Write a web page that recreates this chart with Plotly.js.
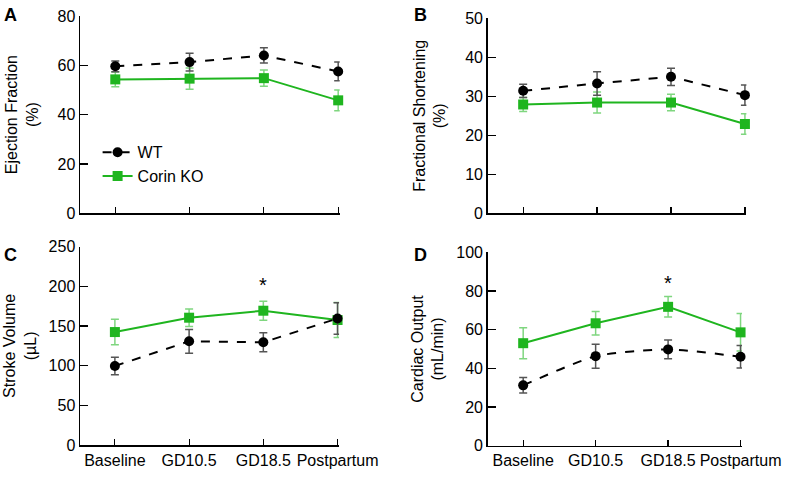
<!DOCTYPE html>
<html>
<head>
<meta charset="utf-8">
<script src="https://cdn.plot.ly/plotly-3.0.1.min.js"></script>
<style>html,body{margin:0;padding:0;background:#fff;}#chart{width:800px;height:478px;}</style>
</head>
<body>
<div id="chart"></div>
<script>
const categories = ["Baseline", "GD10.5", "GD18.5", "Postpartum"];

const efWT = [59.6, 61.3, 64.0, 57.5];
const efWTerr = [2.2, 3.6, 3.1, 3.8];
const efKO = [54.3, 54.6, 54.8, 45.8];
const efKOerr = [3.0, 4.3, 3.3, 4.2];

const fsWT = [31.4, 33.3, 35.0, 30.3];
const fsWTerr = [1.7, 3.0, 2.2, 2.6];
const fsKO = [27.9, 28.4, 28.4, 22.9];
const fsKOerr = [1.8, 2.7, 2.1, 2.6];

const svWT = [99.6, 130.7, 129.5, 159.5];
const svWTerr = [11, 15, 12, 20];
const svKO = [142.4, 160.5, 169.3, 157.6];
const svKOerr = [16, 11, 12, 22];

const coWT = [31.2, 46.3, 49.8, 46.0];
const coWTerr = [4.0, 6.2, 4.8, 5.8];
const coKO = [53.0, 63.3, 71.8, 58.6];
const coKOerr = [8.0, 6.1, 5.3, 9.7];

const yTitles = ["Ejection Fraction<br>(%)", "Fractional Shortening<br>(%)", "Stroke Volume<br>(µL)", "Cardiac Output<br>(mL/min)"];
const yMax = [80, 50, 250, 100];
const yDtick = [20, 10, 50, 20];
const panelLetters = ["A", "B", "C", "D"];
const starY = [null, null, 202, 84];

const GREEN = "#1fb51f";
const GREEN_ERR = "#7fd67f";
const WT_ERR = "#555555";
const FONT = "Liberation Sans, Arial, sans-serif";

const panels = [
  {wt: efWT, wte: efWTerr, ko: efKO, koe: efKOerr, shape: "linear"},
  {wt: fsWT, wte: fsWTerr, ko: fsKO, koe: fsKOerr, shape: "linear"},
  {wt: svWT, wte: svWTerr, ko: svKO, koe: svKOerr, shape: "linear"},
  {wt: coWT, wte: coWTerr, ko: coKO, koe: coKOerr, shape: "spline"}
];

const xIdx = categories.map((c, i) => i);
const traces = [];
panels.forEach((p, k) => {
  const ax = k === 0 ? "" : String(k + 1);
  traces.push({
    x: xIdx, y: p.ko, type: "scatter", mode: "lines+markers", name: "Corin KO",
    xaxis: "x" + ax, yaxis: "y" + ax, showlegend: k === 0, legendrank: 2,
    line: {color: GREEN, width: 2},
    marker: {symbol: "square", size: 10, color: GREEN},
    error_y: {type: "data", array: p.koe, visible: true, color: GREEN_ERR, thickness: 1.5, width: 4},
    cliponaxis: false
  });
  traces.push({
    x: xIdx, y: p.wt, type: "scatter", mode: "lines+markers", name: "WT",
    xaxis: "x" + ax, yaxis: "y" + ax, showlegend: k === 0, legendrank: 1,
    line: {color: "#000", width: 2, dash: "dash", shape: p.shape, smoothing: 0.6},
    marker: {symbol: "circle", size: 10, color: "#000"},
    error_y: {type: "data", array: p.wte, visible: true, color: WT_ERR, thickness: 1.5, width: 4},
    cliponaxis: false
  });
});

const xDomains = [[0.1, 0.4246], [0.6096, 0.933], [0.1, 0.4238], [0.6096, 0.9275]];
const yDomains = [[0.5538, 0.9665], [0.5538, 0.9617], [0.069, 0.4839], [0.0676, 0.4722]];
const xRanges = [[-0.475, 3.02], [-0.48, 3.02], [-0.47, 3.02], [-0.49, 3.02]];
const standoffs = [15, 15, 8, 8];

const layout = {
  width: 800, height: 478,
  margin: {l: 0, r: 0, t: 0, b: 0},
  paper_bgcolor: "#fff", plot_bgcolor: "#fff",
  font: {family: FONT, size: 15, color: "#000"},
  showlegend: true,
  legend: {x: 0.122, y: 0.717, xanchor: "left", yanchor: "top", font: {size: 16, family: FONT},
           bgcolor: "rgba(0,0,0,0)", traceorder: "normal", itemwidth: 30, tracegroupgap: 0},
  annotations: [],
  shapes: []
};

for (let k = 0; k < 4; k++) {
  const ax = k === 0 ? "" : String(k + 1);
  layout["xaxis" + ax] = {
    domain: xDomains[k], range: xRanges[k], anchor: "y" + ax,
    tickmode: "array", tickvals: xIdx, ticktext: k >= 2 ? categories : categories.map(() => ""),
    tickangle: 0,
    ticks: "inside", ticklen: 6, tickwidth: 1.2, tickcolor: "#000",
    showline: true, linecolor: "#000", linewidth: 1.5, showgrid: false, zeroline: false,
    tickfont: {size: 16, family: FONT, color: "#000"}, fixedrange: true
  };
  layout["yaxis" + ax] = {
    domain: yDomains[k], range: [0, yMax[k]], anchor: "x" + ax, dtick: yDtick[k], tick0: 0,
    ticks: "inside", ticklen: 8, tickwidth: 1.2, tickcolor: "#000",
    showline: true, linecolor: "#000", linewidth: 1.5, showgrid: false, zeroline: false,
    tickfont: {size: 16, family: FONT, color: "#000"},
    title: {text: yTitles[k], font: {size: 16, family: FONT, color: "#000"}, standoff: standoffs[k]},
    fixedrange: true
  };
  layout.annotations.push({
    text: "<b>" + panelLetters[k] + "</b>", xref: "paper", yref: "paper",
    x: (k % 2 === 0 ? 2 : 412) / 800, y: 1 - ((k < 2 ? 3 : 243) / 478),
    xanchor: "left", yanchor: "top", showarrow: false, font: {size: 18, family: FONT, color: "#000"}
  });
  if (starY[k] !== null) {
    layout.annotations.push({
      text: "*", xref: "x" + ax, yref: "y" + ax, x: 2, y: starY[k],
      showarrow: false, font: {size: 20, family: FONT, color: "#000"}
    });
  }
}

Plotly.newPlot("chart", traces, layout, {staticPlot: true, displayModeBar: false});
</script>
</body>
</html>
